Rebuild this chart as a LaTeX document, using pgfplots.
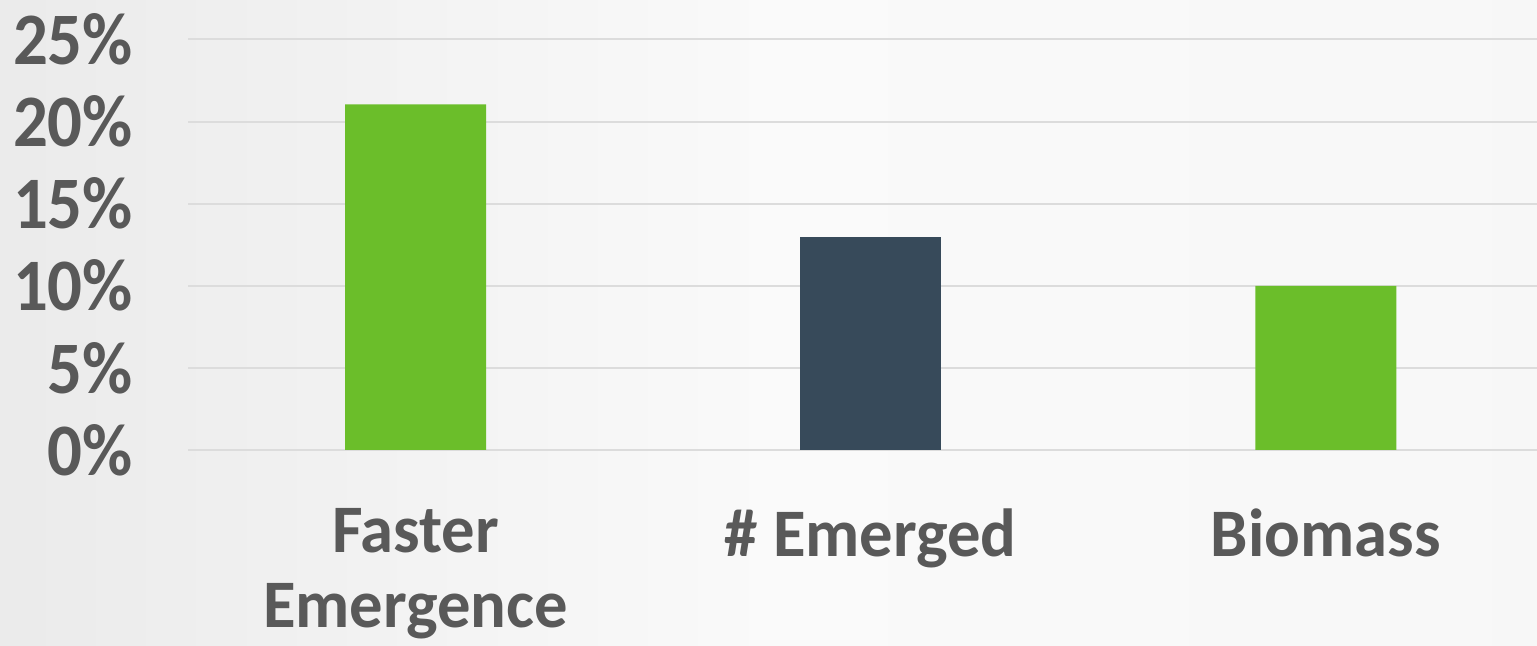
\documentclass[border=0pt]{standalone}
\usepackage{pgfplots}
\pgfplotsset{compat=1.18}
\usepackage{fontspec}
\setmainfont{Carlito}[FakeStretch=0.98]
\newfontfamily\tickfont{Carlito}[FakeStretch=0.93]
\definecolor{bargreen}{HTML}{6BBE2A}
\definecolor{bardark}{HTML}{374A5A}
\definecolor{txt}{HTML}{595959}
\definecolor{gridc}{HTML}{DCDCDC}
\begin{document}
\begin{tikzpicture}[x=1pt,y=1pt]
\shade[left color=black!8, right color=black!2] (0,0) rectangle (384,323);
\shade[left color=black!2, right color=black!3] (384,0) rectangle (768.5,323);
\begin{axis}[
  at={(94pt,98pt)}, anchor=south west,
  scale only axis,
  width=674.5pt, height=205.25pt,
  xmin=-0.5, xmax=2.464,
  ymin=0, ymax=25,
  axis line style={draw=none},
  major tick length=0pt,
  ytick={0,5,10,15,20,25},
  yticklabels={0\%,5\%,10\%,15\%,20\%,25\%},
  ymajorgrids,
  grid style={gridc, line width=1pt},
  xtick={0,1,2},
  xticklabels={{Faster\\Emergence},{\# Emerged},{Biomass}},
  xticklabel style={align=center, anchor=north, inner sep=0pt, yshift=-29pt, font=\fontsize{34}{37.5}\selectfont\bfseries, text=txt},
  yticklabel style={font=\fontsize{37}{40}\selectfont\tickfont\bfseries, text=txt, xshift=-24pt},
  clip=false,
]
\addplot[ybar, bar width=70.5pt, fill=bargreen, draw=none] coordinates {(0,21.05) (2,10.0)};
\addplot[ybar, bar width=70.5pt, fill=bardark, draw=none] coordinates {(1,13.0)};
\end{axis}
\pgfresetboundingbox
\path (0,0) rectangle (768.5,323);
\end{tikzpicture}
\end{document}
